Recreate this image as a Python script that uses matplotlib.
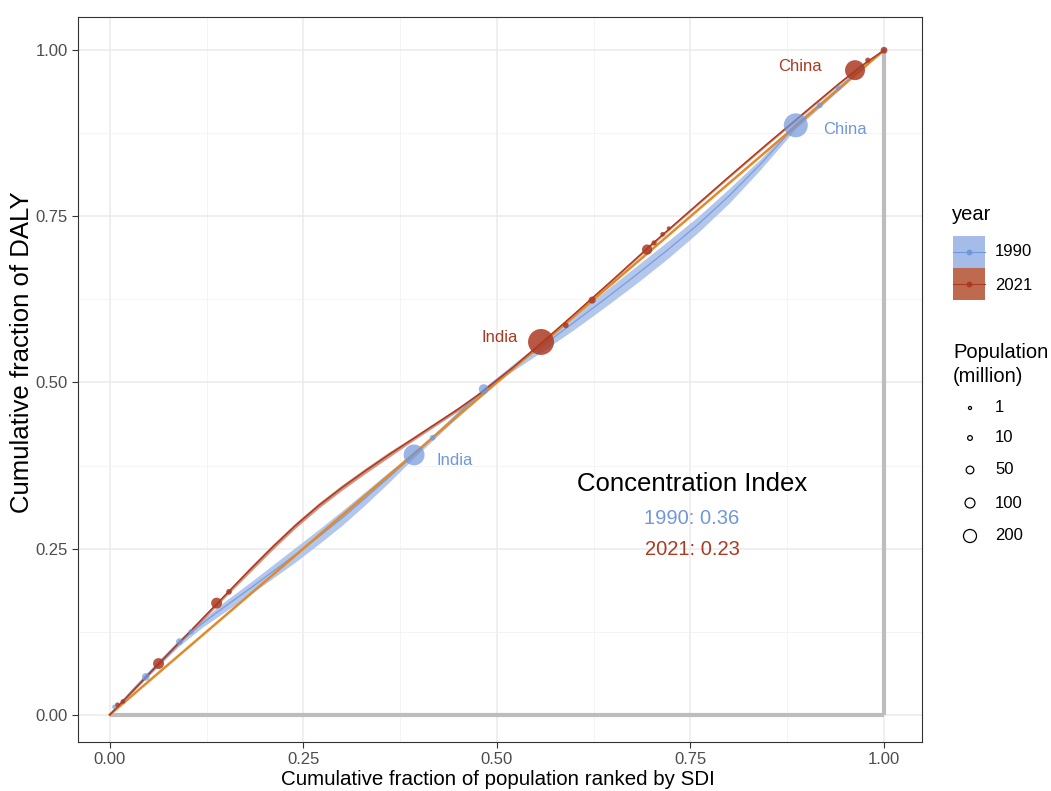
import matplotlib.pyplot as plt
import numpy as np

plt.rcParams['font.family'] = ['Liberation Sans', 'DejaVu Sans']

# points per year (cumulative population fraction, cumulative DALY fraction, population in millions)
x1990 = [0.006, 0.0465, 0.090, 0.105, 0.393, 0.417, 0.483, 0.886, 0.917, 0.941, 0.969, 1.0]
y1990 = [0.012, 0.057, 0.110, 0.125, 0.391, 0.417, 0.490, 0.887, 0.917, 0.943, 0.973, 1.0]
pop1990 = [8, 50, 35, 15, 600, 20, 100, 815, 20, 15, 8, 8]

x2021 = [0.010, 0.017, 0.063, 0.138, 0.154, 0.557, 0.589, 0.623, 0.694, 0.703, 0.714, 0.722, 0.9625, 0.979, 1.0]
y2021 = [0.015, 0.020, 0.077, 0.168, 0.185, 0.561, 0.586, 0.624, 0.700, 0.710, 0.723, 0.732, 0.970, 0.985, 1.0]
pop2021 = [10, 10, 130, 130, 20, 970, 20, 40, 110, 15, 10, 5, 540, 15, 35]

# fitted curves and their bands
fit_x1990 = [0, 0.03, 0.06, 0.09, 0.12, 0.15, 0.18, 0.21, 0.24, 0.27, 0.30, 0.33, 0.36, 0.393, 0.42, 0.45,
             0.483, 0.52, 0.56, 0.60, 0.64, 0.68, 0.72, 0.76, 0.80, 0.84, 0.886, 0.92, 0.95, 0.97, 1.0]
fit_y1990 = [0, 0.038, 0.074, 0.109, 0.138, 0.164, 0.189, 0.215, 0.241, 0.268, 0.296, 0.326, 0.357, 0.391, 0.42, 0.453,
             0.489, 0.522, 0.556, 0.591, 0.626, 0.662, 0.699, 0.738, 0.781, 0.828, 0.887, 0.921, 0.952, 0.973, 1.0]
fit_se1990 = [0, 0.003, 0.004, 0.005, 0.006, 0.008, 0.009, 0.01, 0.011, 0.011, 0.011, 0.01, 0.008, 0.004, 0.004, 0.004,
              0.003, 0.005, 0.008, 0.011, 0.012, 0.013, 0.013, 0.012, 0.011, 0.008, 0.005, 0.004, 0.003, 0.002, 0]

fit_x2021 = [0, 0.03, 0.06, 0.09, 0.12, 0.15, 0.18, 0.21, 0.24, 0.27, 0.30, 0.33, 0.36, 0.39, 0.42,
             0.45, 0.48, 0.52, 0.56, 0.60, 0.65, 0.70, 0.75, 0.80, 0.85, 0.90, 0.94, 0.97, 1.0]
fit_y2021 = [0, 0.036, 0.073, 0.109, 0.145, 0.181, 0.217, 0.252, 0.285, 0.315, 0.342, 0.367, 0.391, 0.414, 0.437,
             0.46, 0.485, 0.522, 0.562, 0.603, 0.655, 0.708, 0.759, 0.81, 0.86, 0.909, 0.948, 0.976, 1.0]
fit_se2021 = [0, 0.001, 0.002, 0.002, 0.003, 0.003, 0.004, 0.004, 0.004, 0.004, 0.004, 0.004, 0.004, 0.003, 0.003,
              0.003, 0.002, 0.002, 0.002, 0.002, 0.002, 0.002, 0.002, 0.002, 0.002, 0.002, 0.002, 0.001, 0]

ci1990 = 0.36
ci2021 = 0.23

blue = '#7197DB'
blue_fill = '#A6BCE8'
red = '#AC3A22'
red_fill = '#BE6A4F'
orange = '#E08A2C'


def size(p):
    d = 2.3 + 0.76 * np.sqrt(np.asarray(p, dtype=float))  # pixels
    return (d * 0.72) ** 2


fig = plt.figure(figsize=(10.51, 7.91), dpi=100)
ax = fig.add_axes([78 / 1051, 1 - 742 / 791, 844 / 1051, 725 / 791])

# equality box lines
ax.plot([0, 1], [0, 0], color='#BDBDBD', lw=3, solid_capstyle='butt', zorder=2)
ax.plot([1, 1], [0, 1], color='#BDBDBD', lw=3, solid_capstyle='butt', zorder=2)

# bands and fits
fx, fy, fs = np.array(fit_x1990), np.array(fit_y1990), np.array(fit_se1990)
ax.fill_between(fx, fy - fs, fy + fs, color=blue_fill, alpha=0.85, lw=0, zorder=3)
ax.plot(fx, fy, color=blue, lw=1.0, alpha=0.8, zorder=4)
gx, gy, gs = np.array(fit_x2021), np.array(fit_y2021), np.array(fit_se2021)
ax.fill_between(gx, gy - gs, gy + gs, color=red_fill, alpha=0.7, lw=0, zorder=3)

ax.plot([0, 1], [0, 1], color=orange, lw=1.8, zorder=4)
ax.plot(gx, gy, color=red, lw=1.1, zorder=5)

ax.scatter(x1990, y1990, s=size(pop1990), color=blue, alpha=0.7, lw=0, zorder=6)
ax.scatter(x2021, y2021, s=size(pop2021), color=red, alpha=0.85, lw=0, zorder=6)

# country labels
ax.text(0.891, 0.976, 'China', color=red, fontsize=12, ha='center', va='center', zorder=7)
ax.text(0.950, 0.880, 'China', color=blue, fontsize=12, ha='center', va='center', zorder=7)
ax.text(0.504, 0.568, 'India', color=red, fontsize=12, ha='center', va='center', zorder=7)
ax.text(0.446, 0.382, 'India', color=blue, fontsize=12, ha='center', va='center', zorder=7)

ax.text(0.752, 0.347, 'Concentration Index', color='black', fontsize=18.5, ha='center', va='center')
ax.text(0.752, 0.296, f'1990: {ci1990:.2f}', color=blue, fontsize=14.5, ha='center', va='center')
ax.text(0.752, 0.248, f'2021: {ci2021:.2f}', color=red, fontsize=14.5, ha='center', va='center')

ax.set_xlim(-0.041, 1.049)
ax.set_ylim(-0.041, 1.05)
ticks = [0, 0.25, 0.5, 0.75, 1.0]
ax.set_xticks(ticks)
ax.set_yticks(ticks)
ax.set_xticklabels([f'{t:.2f}' for t in ticks])
ax.set_yticklabels([f'{t:.2f}' for t in ticks])
ax.set_xticks([0.125, 0.375, 0.625, 0.875], minor=True)
ax.set_yticks([0.125, 0.375, 0.625, 0.875], minor=True)
ax.tick_params(which='major', labelsize=12, colors='#333333', labelcolor='#4D4D4D', length=4, width=0.8)
ax.tick_params(which='minor', length=0)
ax.grid(which='major', color='#EBEBEB', lw=1.1)
ax.grid(which='minor', color='#F2F2F2', lw=0.6)
ax.set_axisbelow(True)
for s in ax.spines.values():
    s.set_color('#333333')
    s.set_linewidth(0.8)

# axis titles
fig.text(498 / 1051, 2 / 791, 'Cumulative fraction of population ranked by SDI', fontsize=14.8,
         ha='center', va='bottom')
fig.text(22 / 1051, 1 - 352 / 791, 'Cumulative fraction of DALY', fontsize=18.5,
         rotation=90, ha='center', va='center')

# legend drawn in pixel coordinates
lg = fig.add_axes([0, 0, 1, 1], zorder=-1)
lg.set_xlim(0, 1051)
lg.set_ylim(791, 0)
lg.axis('off')
lg.text(952, 215, 'year', fontsize=14.5, va='center', ha='left')
lg.add_patch(plt.Rectangle((953, 236), 32, 32, color=blue_fill, lw=0))
lg.add_patch(plt.Rectangle((953, 268), 32, 32, color=red_fill, lw=0))
lg.plot([953, 985], [252, 252], color=blue, lw=0.8)
lg.plot([953, 985], [284, 284], color=red, lw=0.8)
lg.scatter([969], [252], s=size(8), color=blue)
lg.scatter([969], [284], s=size(8), color=red)
lg.text(995, 252, '1990', fontsize=12, va='center')
lg.text(995, 285, '2021', fontsize=12, va='center')

lg.text(953, 352, 'Population', fontsize=14.5, va='center')
lg.text(953, 376, '(million)', fontsize=14.5, va='center')
leg_pops = [1, 10, 50, 100, 200]
leg_y = [408, 438, 470, 503, 536]
lg.scatter([970] * 5, leg_y, s=size(leg_pops), facecolors='none', edgecolors='black', lw=0.9)
for p, yy in zip(leg_pops, leg_y):
    lg.text(995, yy, str(p), fontsize=12, va='center')

fig.savefig('out.png', dpi=100)
